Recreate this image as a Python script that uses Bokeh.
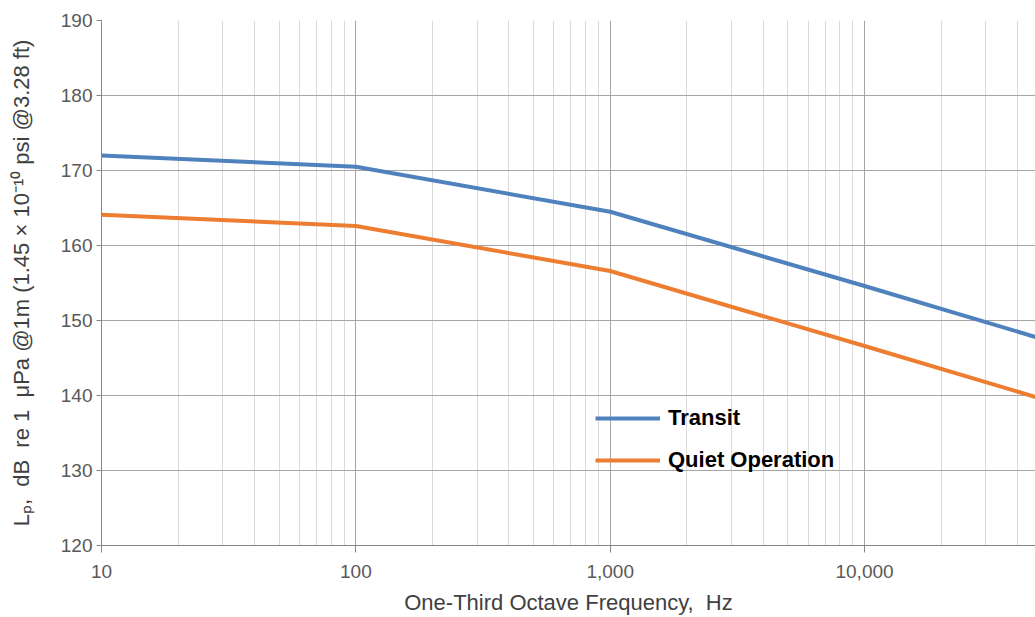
from bokeh.plotting import figure
from bokeh.models import FixedTicker, NumeralTickFormatter, Legend, LegendItem, Range1d
from bokeh.embed import file_html
from bokeh.resources import INLINE

# Data
freq_hz = [10, 100, 1000, 10000, 47000]
transit_db = [172.0, 170.5, 164.5, 154.6, 147.8]
quiet_db = [164.1, 162.6, 156.6, 146.6, 139.8]
x_ticks = [10, 100, 1000, 10000]
x_minor = [m * d for d in [10, 100, 1000, 10000] for m in range(2, 10) if m * d < 47000]
y_ticks = [120, 130, 140, 150, 160, 170, 180, 190]
series_names = ["Transit", "Quiet Operation"]
NB = "\u00a0"
x_label = "One-Third Octave Frequency," + NB + " Hz"
y_label = "Lₚ," + NB + " dB" + NB + " re 1" + NB + " μPa @1m (1.45 × 10⁻¹⁰ psi @3.28 ft)"

FONT = "Liberation Sans"

p = figure(width=1035, height=617, x_axis_type="log",
           x_range=Range1d(10, 47000), y_range=Range1d(120, 190),
           output_backend="svg", toolbar_location=None,
           min_border_left=101, min_border_right=0, min_border_top=20, min_border_bottom=72)
p.outline_line_color = None
p.background_fill_color = "white"

# Axes
p.xaxis.ticker = FixedTicker(ticks=x_ticks, minor_ticks=x_minor)
p.xaxis.formatter = NumeralTickFormatter(format="0,0")
p.yaxis.ticker = FixedTicker(ticks=y_ticks)
for ax in (p.xaxis[0], p.yaxis[0]):
    ax.axis_line_color = "#868686"
    ax.major_tick_line_color = "#868686"
    ax.minor_tick_line_color = None
    ax.major_tick_in = 0
    ax.major_label_text_font = FONT
    ax.major_label_text_font_size = "19px"
    ax.major_label_text_color = "#595959"
    ax.axis_label_text_font = FONT
    ax.axis_label_text_font_size = "22px"
    ax.axis_label_text_font_style = "normal"
    ax.axis_label_text_color = "#404040"
p.xaxis.major_tick_out = 7
p.yaxis.major_tick_out = 5
p.xaxis.major_label_standoff = 12
p.yaxis.major_label_standoff = 4
p.xaxis.axis_label = x_label
p.xaxis.axis_label_standoff = 9
p.yaxis.axis_label = y_label
p.yaxis.axis_label_standoff = 24

# Grid
p.xgrid.ticker = FixedTicker(ticks=x_ticks, minor_ticks=x_minor)
p.xgrid.grid_line_color = "#a6a6a6"
p.xgrid.minor_grid_line_color = "#d9d9d9"
p.ygrid.grid_line_color = "#a6a6a6"

r1 = p.line(freq_hz, transit_db, line_color="#4f81bd", line_width=4)
r2 = p.line(freq_hz, quiet_db, line_color="#ed7d31", line_width=4)

legend = Legend(items=[LegendItem(label=series_names[0], renderers=[r1]),
                       LegendItem(label=series_names[1], renderers=[r2])],
                location=(494, 72), orientation="vertical",
                background_fill_alpha=0, border_line_alpha=0,
                padding=0, margin=0, spacing=16,
                glyph_width=65, glyph_height=26, label_height=26, label_standoff=8,
                label_text_font=FONT, label_text_font_size="22px",
                label_text_font_style="bold", label_text_color="black")
p.add_layout(legend, "center")

html = file_html(p, INLINE)
open("out.html", "w").write(html)
